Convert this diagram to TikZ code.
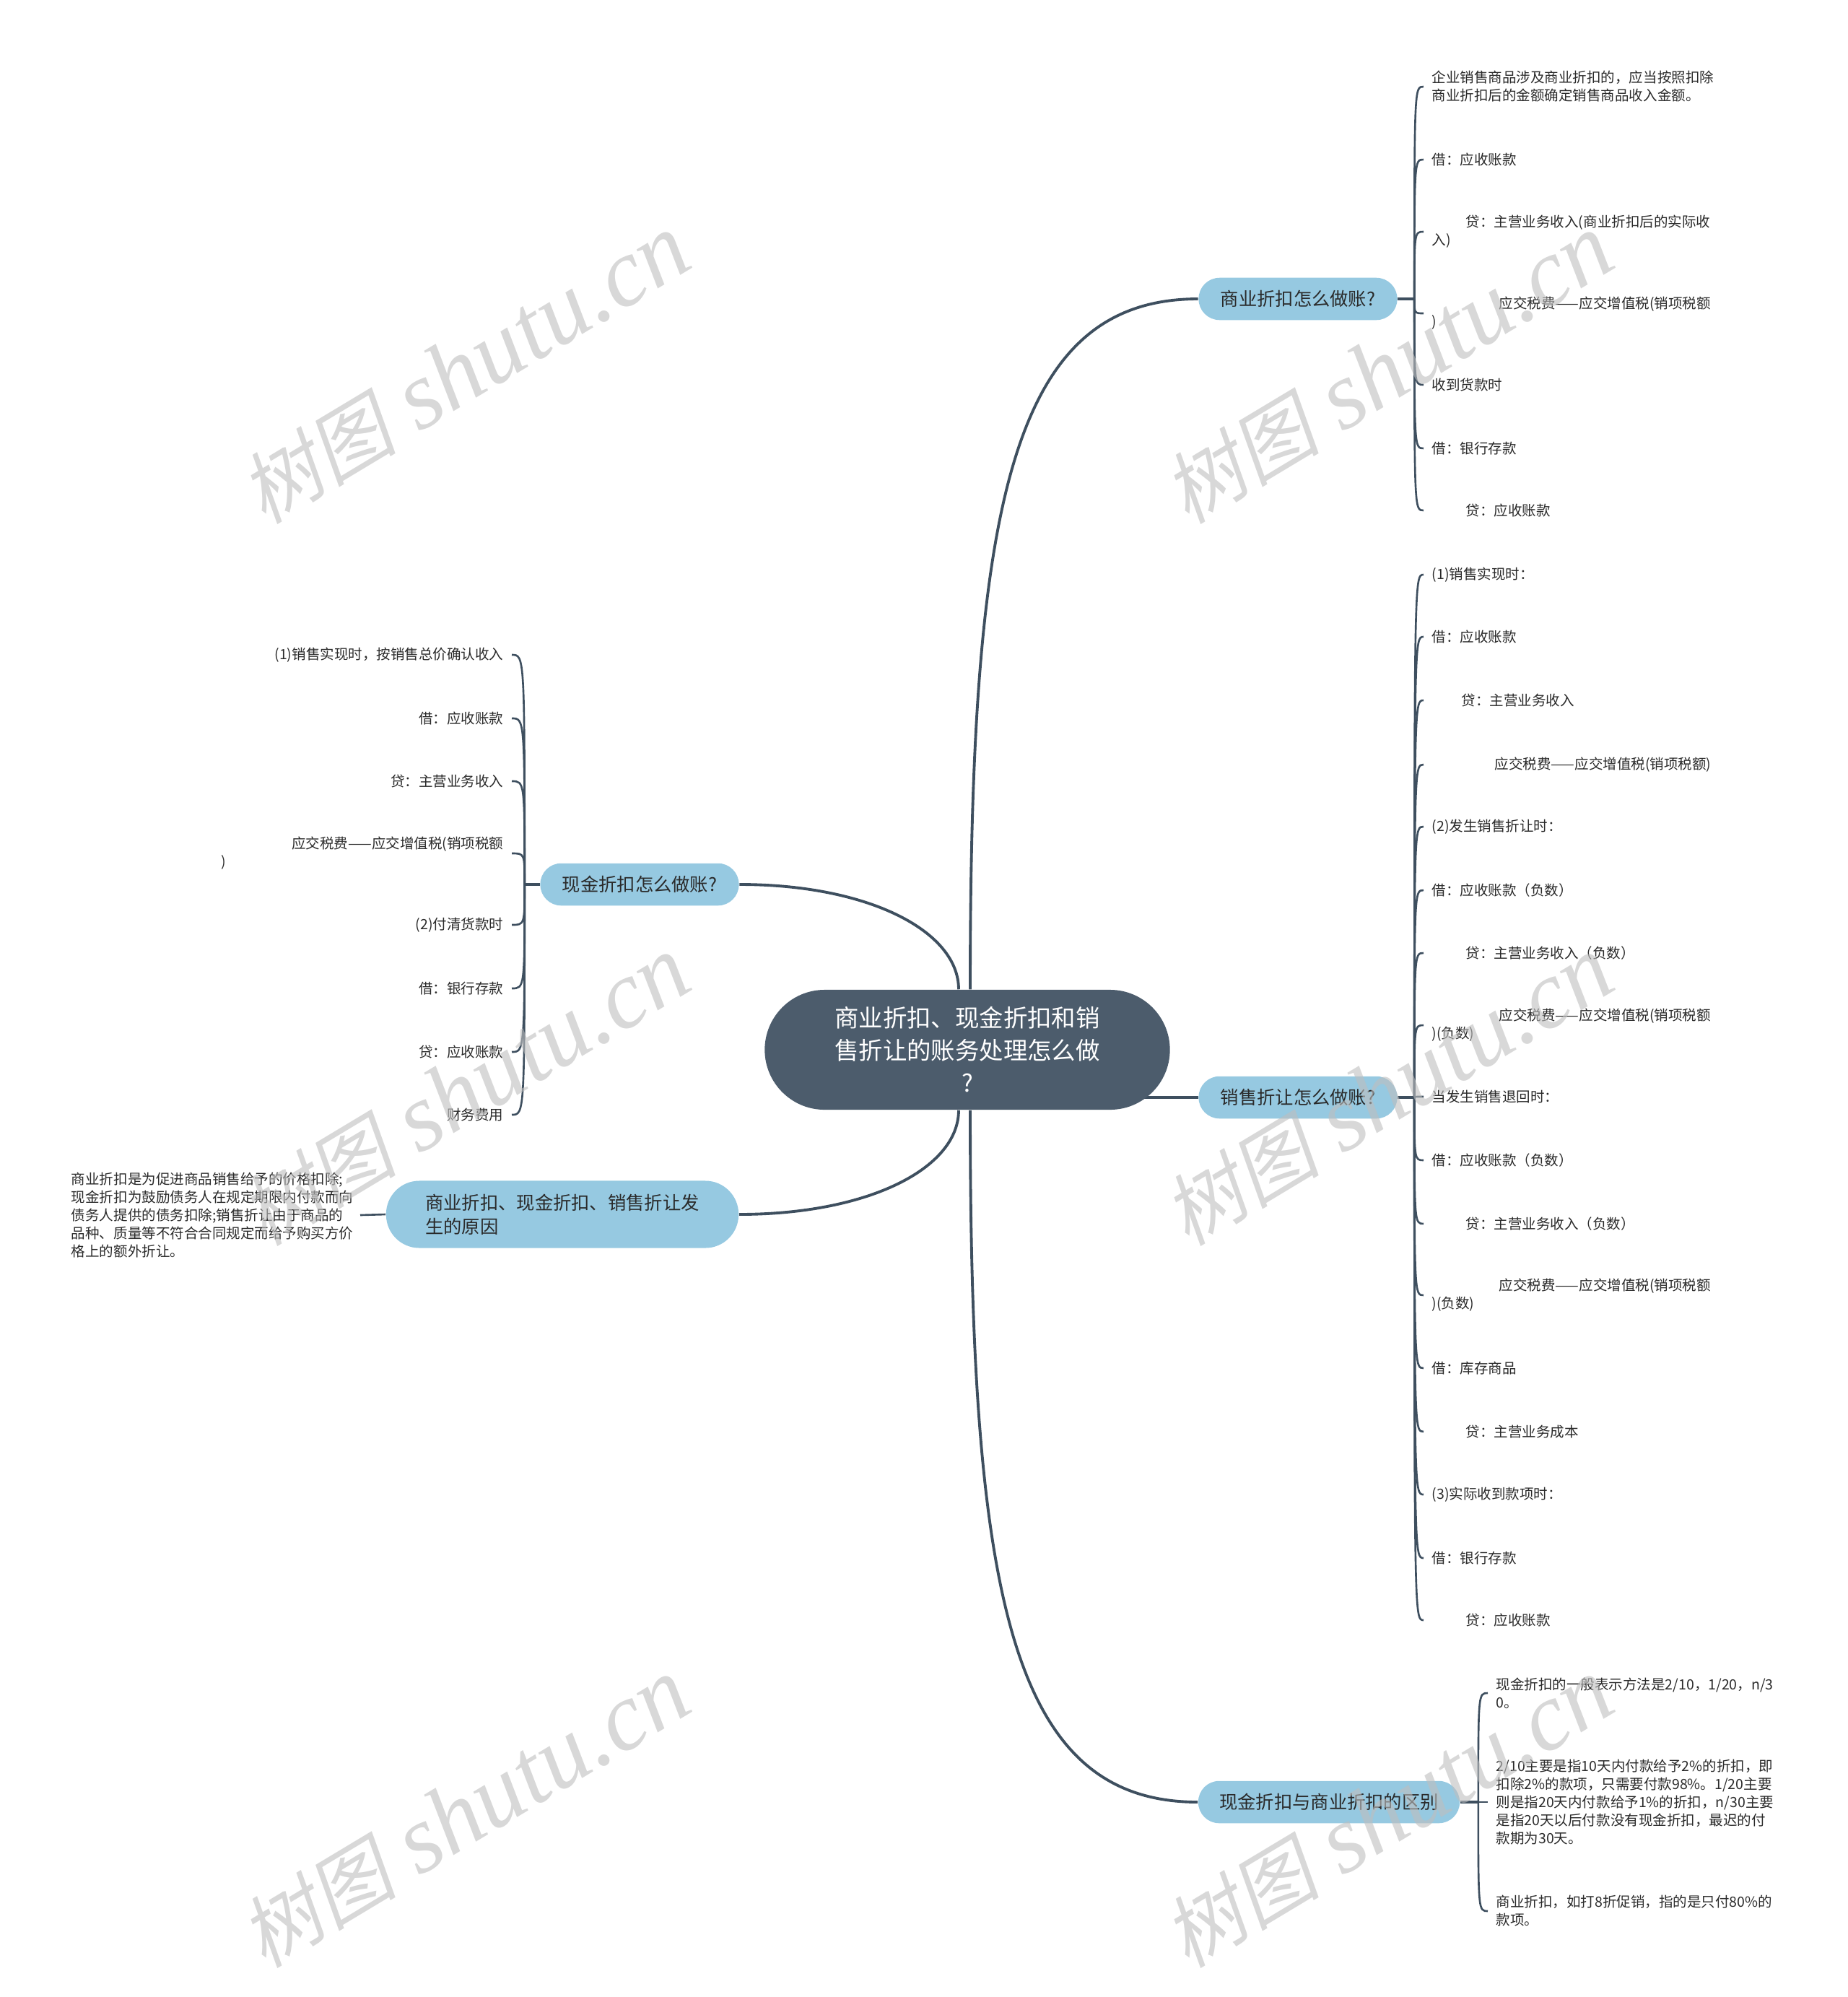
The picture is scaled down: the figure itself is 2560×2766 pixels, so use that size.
\documentclass[tikz,border=0pt]{standalone}
\usepackage{fontspec}
\setmainfont{Noto Sans CJK SC}
\newfontfamily\markcjk[FakeSlant=0.2]{Noto Sans CJK SC}
\newfontfamily\marklatin{Liberation Serif}
\pgfdeclarelayer{background}
\pgfsetlayers{background,main}
\definecolor{rootfill}{HTML}{4C5C6C}
\definecolor{topicfill}{HTML}{96C9E1}
\definecolor{linkcol}{HTML}{3E4F5F}
\definecolor{inkcol}{HTML}{2A2A2A}
\definecolor{markcol}{HTML}{BEBEBE}

\begin{document}
\begin{tikzpicture}[x=0.01cm, y=-0.01cm,
    root/.style={fill=rootfill, text=white, rounded corners=0.83cm, minimum width=5.61cm,
      minimum height=1.66cm, align=center, font=\fontsize{9.5}{12.8}\selectfont},
    topic/.style={fill=topicfill, text=inkcol, minimum height=0.585cm, rounded corners=0.29cm,
      font=\fontsize{7.2}{9.5}\selectfont},
    leaf/.style={inner xsep=0.11cm, inner ysep=0pt, align=left, text=inkcol,
      font=\fontsize{5.55}{7.1}\selectfont},
    link/.style={draw=linkcol, line width=1.1pt},
    twig/.style={draw=linkcol, line width=0.75pt},
    wmark/.style={rotate=31, text=markcol, opacity=0.6}]
  \useasboundingbox (0,0) rectangle (2560,2766);

  % root and the five topics
  \node[root] (root) at (1340,1454) {商业折扣、现金折扣和销\\售折让的账务处理怎么做\\?};
  \node[topic, minimum width=2.75cm] (trade) at (1798,414) {商业折扣怎么做账?};
  \node[topic, minimum width=2.75cm] (allow) at (1798,1520) {销售折让怎么做账?};
  \node[topic, minimum width=3.62cm] (diff) at (1841,2496) {现金折扣与商业折扣的区别};
  \node[topic, minimum width=2.75cm] (cash) at (886,1225) {现金折扣怎么做账?};
  \node[topic, minimum width=4.88cm, minimum height=0.93cm, rounded corners=0.46cm, align=left]
    (why) at (779,1682) {商业折扣、现金折扣、销售折让发\\生的原因};
  \begin{pgfonlayer}{background}
    \draw[link] ([xshift=0.04cm]root.north) .. controls +(0,-670) and +(-260,0) .. (trade.west);
    \draw[link] (root.center |- allow.west) -- (allow.west);
    \draw[link] ([xshift=0.04cm]root.south) .. controls +(0,670) and +(-260,0) .. (diff.west);
    \draw[link] ([xshift=-0.12cm]root.north) .. controls +(0,-80) and +(180,0) .. (cash.east);
    \draw[link] ([xshift=-0.12cm]root.south) .. controls +(0,80) and +(180,0) .. (why.east);
  \end{pgfonlayer}

  % trade discount entries
  \draw[link] (trade.east) -- ++(23,0) coordinate (trade-t);
  \foreach \i/\y/\txt in {1/120/{企业销售商品涉及商业折扣的，应当按照扣除\\商业折扣后的金额确定销售商品收入金额。},
      2/221/{借：应收账款}, 3/321/{\hspace*{0.47cm}贷：主营业务收入(商业折扣后的实际收\\入)},
      4/434/{\hspace*{0.93cm}应交税费——应交增值税(销项税额\\)}, 5/533/{收到货款时},
      6/621/{借：银行存款}, 7/707/{\hspace*{0.47cm}贷：应收账款}} {
    \node[leaf, anchor=west] (trade-\i) at (1972,\y) {\txt};
    \begin{pgfonlayer}{background}
      \draw[twig] (trade-t) .. controls (trade-t |- trade-\i.west) .. (trade-\i.west);
    \end{pgfonlayer}
  }

  % sales allowance entries
  \draw[link] (allow.east) -- ++(23,0) coordinate (allow-t);
  \foreach \i/\y/\txt in {1/796/{(1)销售实现时：}, 2/882/{借：应收账款},
      3/970/{\hspace*{0.41cm}贷：主营业务收入}, 4/1059/{\hspace*{0.87cm}应交税费——应交增值税(销项税额)},
      5/1145/{(2)发生销售折让时：}, 6/1233/{借：应收账款（负数）},
      7/1320/{\hspace*{0.47cm}贷：主营业务收入（负数）},
      8/1420/{\hspace*{0.93cm}应交税费——应交增值税(销项税额\\)(负数)},
      9/1519/{当发生销售退回时：}, 10/1607/{借：应收账款（负数）},
      11/1695/{\hspace*{0.47cm}贷：主营业务收入（负数）},
      12/1794/{\hspace*{0.93cm}应交税费——应交增值税(销项税额\\)(负数)},
      13/1895/{借：库存商品}, 14/1983/{\hspace*{0.47cm}贷：主营业务成本},
      15/2070/{(3)实际收到款项时：}, 16/2158/{借：银行存款}, 17/2244/{\hspace*{0.47cm}贷：应收账款}} {
    \node[leaf, anchor=west] (allow-\i) at (1972,\y) {\txt};
    \begin{pgfonlayer}{background}
      \draw[twig] (allow-t) .. controls (allow-t |- allow-\i.west) .. (allow-\i.west);
    \end{pgfonlayer}
  }

  % cash vs trade discount
  \draw[link] (diff.east) -- ++(25,0) coordinate (diff-t);
  \node[leaf, anchor=west] (diff-1) at (2061,2345) {现金折扣的一般表示方法是2/10，1/20，n/3\\0。};
  \node[leaf, anchor=west] (diff-2) at (2061,2496)
    {2/10主要是指10天内付款给予2\%的折扣，即\\扣除2\%的款项，只需要付款98\%。1/20主要\\则是指20天内付款给予1\%的折扣，n/30主要\\是指20天以后付款没有现金折扣，最迟的付\\款期为30天。};
  \node[leaf, anchor=west] (diff-3) at (2061,2647) {商业折扣，如打8折促销，指的是只付80\%的\\款项。};
  \begin{pgfonlayer}{background}
    \foreach \i in {1,2,3}
      \draw[twig] (diff-t) .. controls (diff-t |- diff-\i.west) .. (diff-\i.west);
  \end{pgfonlayer}

  % cash discount entries
  \draw[link] (cash.west) -- ++(-21,0) coordinate (cash-t);
  \foreach \i/\y/\txt in {1/907/{(1)销售实现时，按销售总价确认收入}, 2/995/{借：应收账款},
      3/1082/{贷：主营业务收入}, 5/1281/{(2)付清货款时}, 6/1369/{借：银行存款},
      7/1457/{贷：应收账款}, 8/1544/{财务费用}}
    \node[leaf, anchor=east] (cash-\i) at (709,\y) {\txt};
  \node[leaf, anchor=east, text width=3.91cm] (cash-4) at (709,1182)
    {\hspace*{\fill}应交税费——应交增值税(销项税额\\)};
  \begin{pgfonlayer}{background}
    \foreach \i in {1,...,8}
      \draw[twig] (cash-t) .. controls (cash-t |- cash-\i.east) .. (cash-\i.east);
  \end{pgfonlayer}

  % reasons
  \node[leaf, anchor=east, inner xsep=0.09cm] (why-1) at (499,1683)
    {商业折扣是为促进商品销售给予的价格扣除;\\现金折扣为鼓励债务人在规定期限内付款而向\\债务人提供的债务扣除;销售折让由于商品的\\品种、质量等不符合合同规定而给予购买方价\\格上的额外折让。};
  \draw[twig] (why.west) -- (why-1.east);

  % watermark
  \foreach \wx in {644,1923}
    \foreach \wy in {512,1512,2512}
      \node[wmark] (mark-\wx-\wy) at (\wx,\wy)
        {{\markcjk\fontsize{31}{31}\selectfont 树图}\hspace{9pt}{\marklatin\itshape\fontsize{38}{38}\selectfont shutu.cn}};
\end{tikzpicture}
\end{document}
